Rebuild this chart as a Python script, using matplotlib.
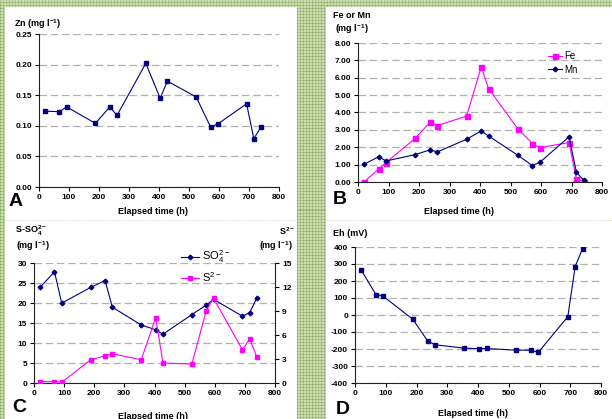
import numpy as np
import matplotlib
matplotlib.use('Agg')
from matplotlib import pyplot as plt
from matplotlib.patches import Rectangle
from matplotlib.lines import Line2D

plt.rcParams['font.family'] = ['Liberation Sans', 'DejaVu Sans']
plt.rcParams['mathtext.fontset'] = 'custom'
plt.rcParams['mathtext.default'] = 'regular'

# Data.
hours = [20, 68, 92, 188, 236, 260, 356, 404, 428, 524, 572, 596, 692, 716, 740]
zn = [0.124, 0.123, 0.131, 0.104, 0.131, 0.117, 0.202, 0.145, 0.173, 0.147,
      0.098, 0.103, 0.136, 0.079, 0.098]
fe = [0.00, 0.75, 1.12, 2.52, 3.44, 3.25, 3.79, 6.63, 5.38, 3.06, 2.21, 1.98, 2.27, 0.17, 0.02]
mn = [1.02, 1.46, 1.21, 1.58, 1.85, 1.73, 2.46, 2.94, 2.65, 1.54, 0.94, 1.13, 2.60, 0.56, 0.10]
so4 = [23.9, 27.8, 19.95, 23.9, 25.6, 18.95, 14.5, 13.3, 12.2, 17.1, 19.5, 20.9, 16.7, 17.6, 21.3]
s2 = [0.17, 0.17, 0.08, 2.9, 3.4, 3.66, 2.9, 8.18, 2.5, 2.37, 9.06, 10.6, 4.15, 5.53, 3.2]
eh = [265, 120, 110, -25, -152, -175, -195, -198, -197, -207, -207, -220, -10, 285, 390]

W, H = 612, 419
NAVY = '#000080'
MAGENTA = '#ff00ff'
GRID = '#b0b0b0'


def box(x0, y0, x1, y1):
    # pixel box (from top-left) -> figure rect
    return [x0 / W, 1 - y1 / H, (x1 - x0) / W, (y1 - y0) / H]


def fpos(x, y):
    return x / W, 1 - y / H


def style_axis(ax, yticks, fmt):
    ax.set_facecolor('none')
    ax.set_xlim(0, 800)
    ax.set_xticks(range(0, 801, 100))
    ax.set_ylim(yticks[0], yticks[-1])
    ax.set_yticks(yticks)
    ax.set_yticklabels([fmt.format(v) for v in yticks])
    for s in ['top', 'right']:
        ax.spines[s].set_visible(False)
    for s in ['left', 'bottom']:
        ax.spines[s].set_linewidth(0.8)
        ax.spines[s].set_color('#222222')
    ax.tick_params(direction='out', length=3, width=0.8, pad=2, labelsize=6)
    for lab in ax.get_xticklabels() + ax.get_yticklabels():
        lab.set_fontweight('bold')
    ax.yaxis.grid(True, color=GRID, linestyle=(0, (6, 3)), linewidth=0.9)
    ax.set_axisbelow(True)


fig = plt.figure(figsize=(6.12, 4.19), dpi=100)

# Green plaid background
bg = fig.add_axes([0, 0, 1, 1], zorder=-5)
yy, xx = np.indices((H, W))
tex = ((xx % 3) == 0).astype(float) + ((yy % 3) == 0).astype(float)
dark = np.array([0.55, 0.67, 0.40])
light = np.array([0.80, 0.87, 0.70])
img = light[None, None, :] * (1 - tex[..., None] / 2) + dark[None, None, :] * (tex[..., None] / 2)
bg.imshow(img, aspect='auto', interpolation='nearest')
bg.axis('off')

# White panels
for x0, y0, x1, y1 in [(5, 7, 297, 419), (326, 7, 612, 419)]:
    fig.add_artist(Rectangle((x0 / W, 1 - y1 / H), (x1 - x0) / W, (y1 - y0) / H,
                             transform=fig.transFigure, facecolor='white',
                             edgecolor='none', zorder=-1))
for x0, x1 in [(5, 297), (326, 612)]:
    fig.add_artist(Line2D([x0 / W, x1 / W], [1 - 220 / H] * 2, transform=fig.transFigure,
                          color='#d8e0cc', linewidth=0.8, linestyle=(0, (1, 1)), zorder=-1))

# Panel A - Zn
axA = fig.add_axes(box(39, 34, 279, 187))
axA.plot(hours, zn, color=NAVY, marker='s', markersize=3.4, linewidth=0.8)
style_axis(axA, [0, 0.05, 0.10, 0.15, 0.20, 0.25], '{:.2f}')
fig.text(*fpos(14, 24), 'Zn (mg l$^{-1}$)', fontsize=6.5, fontweight='bold', va='center')
fig.text(*fpos(153, 212), 'Elapsed time (h)', fontsize=6.5, fontweight='bold',
         ha='center', va='center')
fig.text(*fpos(9, 201), 'A', fontsize=14, fontweight='bold', va='center')

# Panel B - Fe and Mn
axB = fig.add_axes(box(358, 43, 602, 182))
axB.plot(hours, fe, color=MAGENTA, marker='s', markersize=3.6, linewidth=0.8, label='Fe')
axB.plot(hours, mn, color=NAVY, marker='D', markersize=2.4, linewidth=0.8, label='Mn')
style_axis(axB, [0, 1, 2, 3, 4, 5, 6, 7, 8], '{:.2f}')
axB.legend(loc='upper left', bbox_to_anchor=(0.78, 0.94), frameon=False, fontsize=7,
           handlelength=1.4, handletextpad=0.2, borderpad=0, borderaxespad=0,
           labelspacing=0.35)
fig.text(*fpos(333, 16), 'Fe or Mn', fontsize=6.5, fontweight='bold', va='center')
fig.text(*fpos(335, 29), '(mg l$^{-1}$)', fontsize=6.5, fontweight='bold', va='center')
fig.text(*fpos(459, 212), 'Elapsed time (h)', fontsize=6.5, fontweight='bold',
         ha='center', va='center')
fig.text(*fpos(333, 200), 'B', fontsize=14, fontweight='bold', va='center')

# Panel C - sulphate and sulphide
axC = fig.add_axes(box(34, 263, 275, 383))
l1, = axC.plot(hours, so4, color=NAVY, marker='D', markersize=2.4, linewidth=0.8)
style_axis(axC, [0, 5, 10, 15, 20, 25, 30], '{:d}')
axC2 = axC.twinx()
l2, = axC2.plot(hours, s2, color=MAGENTA, marker='s', markersize=3.4, linewidth=0.8)
axC2.set_ylim(0, 15)
axC2.set_yticks([0, 3, 6, 9, 12, 15])
for s in ['top', 'left', 'bottom']:
    axC2.spines[s].set_visible(False)
axC2.spines['right'].set_linewidth(0.8)
axC2.spines['right'].set_color('#222222')
axC2.tick_params(direction='out', length=3, width=0.8, pad=2, labelsize=6)
for lab in axC2.get_yticklabels():
    lab.set_fontweight('bold')
axC.legend([l1, l2], ['SO$_4^{2-}$', 'S$^{2-}$'], loc='upper left',
           bbox_to_anchor=(0.61, 1.12), frameon=False, fontsize=8,
           handlelength=1.6, handletextpad=0.3, borderpad=0, borderaxespad=0,
           labelspacing=0.4)
fig.text(*fpos(15, 231), 'S-SO$_4^{2-}$', fontsize=6.5, fontweight='bold', va='center')
fig.text(*fpos(16, 246), '(mg l$^{-1}$)', fontsize=6.5, fontweight='bold', va='center')
fig.text(*fpos(279, 231), 'S$^{2-}$', fontsize=6.5, fontweight='bold', va='center')
fig.text(*fpos(293, 246), '(mg l$^{-1}$)', fontsize=6.5, fontweight='bold',
         va='center', ha='right')
fig.text(*fpos(153, 416), 'Elapsed time (h)', fontsize=6.5, fontweight='bold',
         ha='center', va='center')
fig.text(*fpos(12, 407), 'C', fontsize=14, fontweight='bold', va='center')

# Panel D - Eh
axD = fig.add_axes(box(355, 247, 601, 383))
axD.plot(hours, eh, color=NAVY, marker='s', markersize=3.4, linewidth=0.8)
style_axis(axD, list(range(-400, 401, 100)), '{:d}')
fig.text(*fpos(333, 233), 'Eh (mV)', fontsize=6.5, fontweight='bold', va='center')
fig.text(*fpos(473, 413), 'Elapsed time (h)', fontsize=6.5, fontweight='bold',
         ha='center', va='center')
fig.text(*fpos(336, 409), 'D', fontsize=14, fontweight='bold', va='center')

fig.savefig('out.png', dpi=100)
